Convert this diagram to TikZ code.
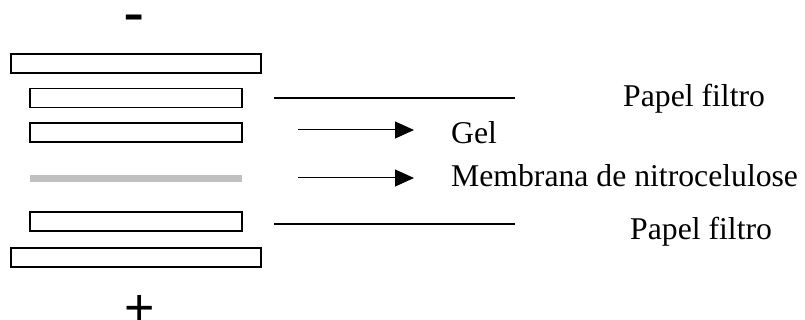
\documentclass[tikz,border=0pt]{standalone}
\usepackage{fontspec}
\setmainfont{Liberation Serif}
\newfontfamily\signfont{Liberation Sans}
\usetikzlibrary{arrows.meta}
\definecolor{membgray}{HTML}{C0C0C0}
\begin{document}
\begin{tikzpicture}[x=1pt,y=-1pt,
  layerbox/.style={draw=black,line width=1.6pt,inner sep=0pt,outer sep=0pt,minimum height=19pt},
  widebox/.style={layerbox,minimum width=250pt},
  narrowbox/.style={layerbox,minimum width=212pt},
  membbar/.style={fill=membgray,inner sep=0pt,outer sep=0pt,minimum width=212pt,minimum height=7pt},
  tag/.style={anchor=base west,inner sep=0pt,font=\fontsize{31.7}{38}\selectfont},
  leader/.style={line width=1.4pt},
  pointer/.style={line width=1pt,-{Triangle[length=19pt,width=17pt]}},
  sign/.style={anchor=base,inner sep=0pt}]
\useasboundingbox (0,0) rectangle (805,320);
% electrodes
\node[sign,font=\signfont\fontsize{64}{70}\selectfont] (minus) at (134,35) {-};
\node[sign,font=\signfont\fontsize{52}{58}\selectfont] (plus) at (140,325) {+};
% stack
\node[widebox] (top) at (136,63.5) {};
\node[narrowbox] (paper1) at (136,98) {};
\node[narrowbox] (gel) at (136,132.5) {};
\node[membbar] (memb) at (136,178.5) {};
\node[narrowbox] (paper2) at (136,221.5) {};
\node[widebox] (bottom) at (136,257.5) {};
% labels
\node[tag] (lp1) at (623,107) {Papel filtro};
\node[tag] (lgel) at (451,144) {Gel};
\node[tag] (lmemb) at (451,187) {Membrana de nitrocelulose};
\node[tag] (lp2) at (630,240) {Papel filtro};
% leader lines and arrows
\coordinate (l1a) at (274,98);
\coordinate (l1b) at (515,98);
\coordinate (a1a) at (298,130);
\coordinate (a1b) at (414,130);
\coordinate (a2a) at (298,178);
\coordinate (a2b) at (414,178);
\coordinate (l2a) at (274,224);
\coordinate (l2b) at (515,224);
\draw[leader] (l1a) -- (l1b);
\draw[pointer] (a1a) -- (a1b);
\draw[pointer] (a2a) -- (a2b);
\draw[leader] (l2a) -- (l2b);
\end{tikzpicture}
\end{document}
